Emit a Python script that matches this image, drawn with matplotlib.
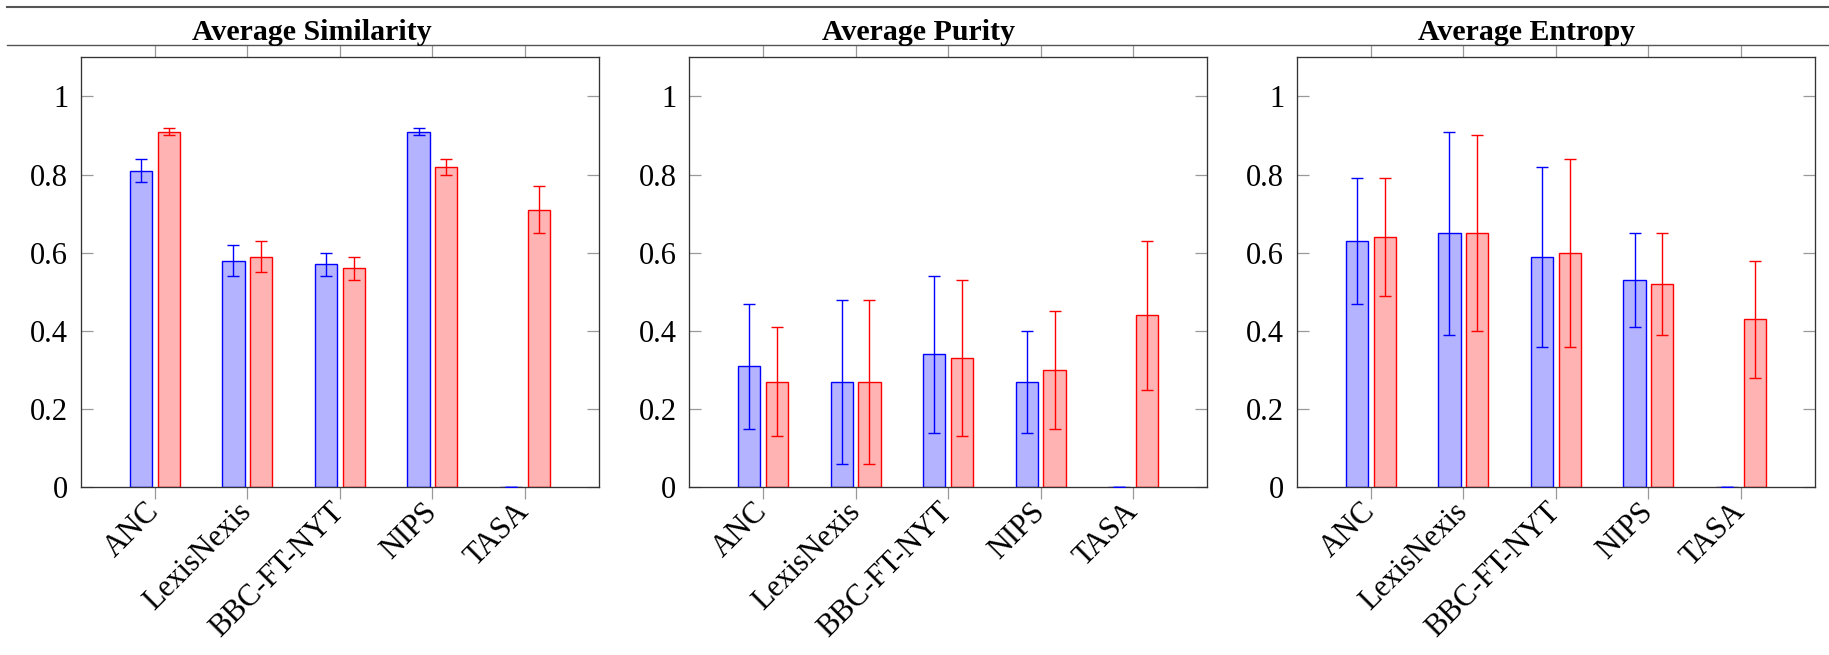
import numpy as np
import matplotlib.pyplot as plt
from matplotlib.lines import Line2D

corpora = ['ANC', 'LexisNexis', 'BBC-FT-NYT', 'NIPS', 'TASA']
titles = ['Average Similarity', 'Average Purity', 'Average Entropy']

# blue series (first method), red series (second method)
sim_blue = [0.81, 0.58, 0.57, 0.91, 0.0]
sim_blue_err = [0.03, 0.04, 0.03, 0.01, 0.0]
sim_red = [0.91, 0.59, 0.56, 0.82, 0.71]
sim_red_err = [0.01, 0.04, 0.03, 0.02, 0.06]

pur_blue = [0.31, 0.27, 0.34, 0.27, 0.0]
pur_blue_err = [0.16, 0.21, 0.20, 0.13, 0.0]
pur_red = [0.27, 0.27, 0.33, 0.30, 0.44]
pur_red_err = [0.14, 0.21, 0.20, 0.15, 0.19]

ent_blue = [0.63, 0.65, 0.59, 0.53, 0.0]
ent_blue_err = [0.16, 0.26, 0.23, 0.12, 0.0]
ent_red = [0.64, 0.65, 0.60, 0.52, 0.43]
ent_red_err = [0.15, 0.25, 0.24, 0.13, 0.15]

yticks = [0, 0.2, 0.4, 0.6, 0.8, 1]
ytick_labels = ['0', '0.2', '0.4', '0.6', '0.8', '1']

plt.rcParams['font.family'] = ['Liberation Serif', 'DejaVu Serif']
plt.rcParams['font.size'] = 22

W, H = 1829, 655
fig = plt.figure(figsize=(W / 100, H / 100), dpi=100)

panels = [
    (sim_blue, sim_blue_err, sim_red, sim_red_err),
    (pur_blue, pur_blue_err, pur_red, pur_red_err),
    (ent_blue, ent_blue_err, ent_red, ent_red_err),
]
lefts = [80.7, 689.0, 1296.7]
title_x = [312, 919, 1527]
ax_w, ax_h, ax_bottom = 518.3, 430.0, 487.3

x = np.arange(len(corpora))
bw, shift = 0.24, 0.15

for i, (b, be, r, re_) in enumerate(panels):
    ax = fig.add_axes([lefts[i] / W, (H - ax_bottom) / H, ax_w / W, ax_h / H])
    ax.bar(x - shift, b, bw, color='#b3b3ff', edgecolor='blue', linewidth=1.0, zorder=2)
    ax.bar(x + shift, r, bw, color='#ffb3b3', edgecolor='red', linewidth=1.0, zorder=2)
    ax.errorbar(x - shift, b, yerr=be, fmt='none', ecolor='blue', elinewidth=1.0,
                capsize=4, capthick=1.0, zorder=3)
    ax.errorbar(x + shift, r, yerr=re_, fmt='none', ecolor='red', elinewidth=1.0,
                capsize=4, capthick=1.0, zorder=3)

    ax.set_xlim(-0.8, 4.8)
    ax.set_ylim(0, 1.1)
    ax.set_yticks(yticks)
    ax.set_yticklabels(ytick_labels)
    ax.set_xticks(x)
    ax.set_xticklabels(corpora, rotation=45, ha='right', va='center',
                       rotation_mode='anchor')

    ax.tick_params(axis='x', direction='out', length=8.6, width=0.9, color='#999999',
                   top=True, pad=6)
    ax.tick_params(axis='y', direction='in', length=8.4, width=0.9, color='#999999',
                   right=True, pad=9)
    for sp in ax.spines.values():
        sp.set_color('#333333')
        sp.set_linewidth(0.95)

    fig.text(title_x[i] / W, 1 - 39.5 / H, titles[i], ha='center', va='baseline',
             weight='bold', size=21.5)

# table rules above the panels
fig.add_artist(Line2D([7.3 / W, 1], [1 - 7.3 / H] * 2, color='#555555', lw=1.5))
fig.add_artist(Line2D([7.3 / W, 1], [1 - 44.5 / H] * 2, color='#555555', lw=1.0))

fig.savefig('out.png', dpi=100)
